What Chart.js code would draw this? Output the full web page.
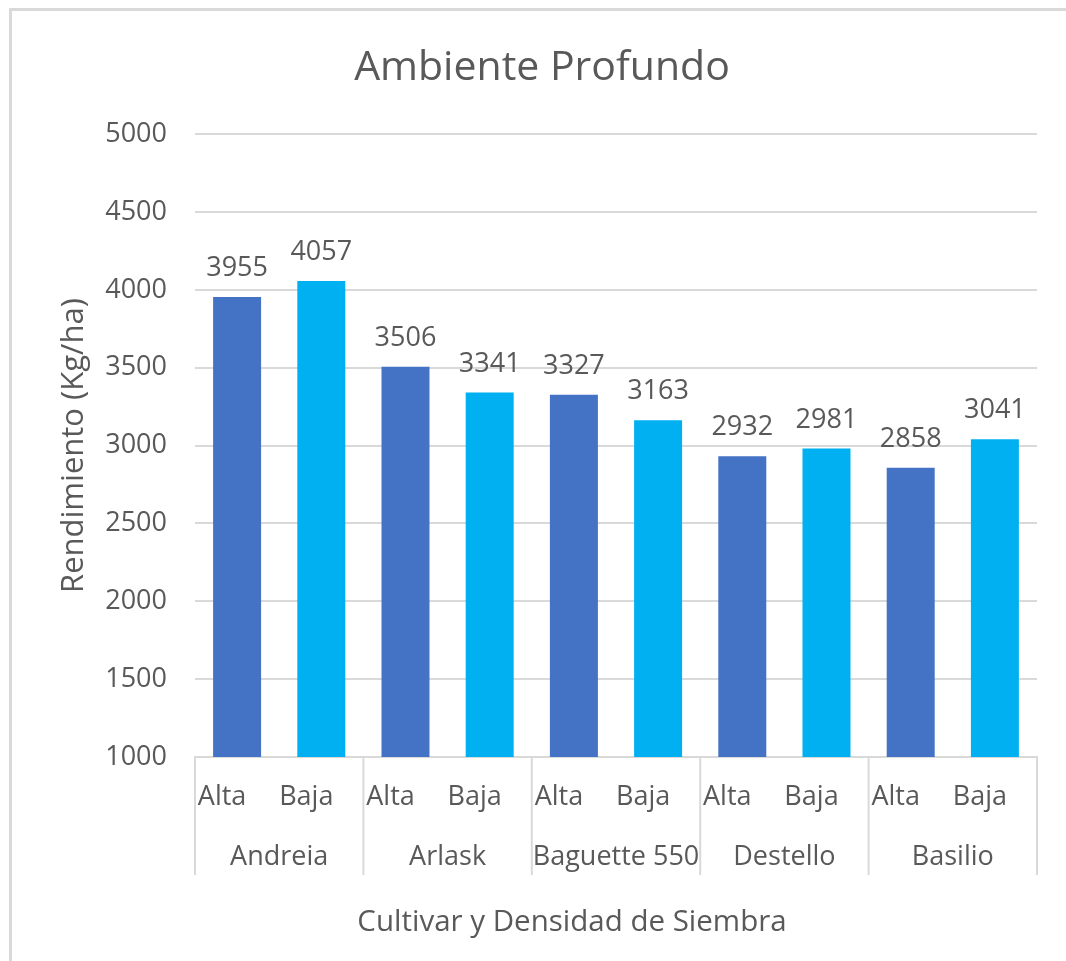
<!DOCTYPE html>
<html>
<head>
<meta charset="utf-8">
<title>Ambiente Profundo</title>
<script src="https://cdn.jsdelivr.net/npm/chart.js@4"></script>
<style>
  body { margin: 0; background: #ffffff; }
  #wrap { position: relative; width: 1066px; height: 961px; overflow: hidden; }
  #rahmen {
    position: absolute; left: 9px; top: 8px; width: 1200px; height: 1100px;
    border-top: 3px solid #d9d9d9; border-left: 3px solid #d9d9d9;
  }
  #chart { position: absolute; left: 0; top: 0; }
</style>
</head>
<body>
<div id="wrap">
  <div id="rahmen"></div>
  <canvas id="chart" width="1066" height="961"></canvas>
</div>
<script>
// ----------------------------------------------------------
// Daten
// ----------------------------------------------------------
const cultivares = ["Andreia", "Arlask", "Baguette 550", "Destello", "Basilio"];
const densidades = ["Alta", "Baja"];
const rendimiento = [3955, 4057, 3506, 3341, 3327, 3163, 2932, 2981, 2858, 3041];
const yTicks = [1000, 1500, 2000, 2500, 3000, 3500, 4000, 4500, 5000];

const titulo = "Ambiente Profundo";
const tituloY = "Rendimiento (Kg/ha)";
const tituloX = "Cultivar y Densidad de Siembra";

const FONT = "'Open Sans', 'Noto Sans', sans-serif";
const GRIS = "#595959";
const LINEA = "#d9d9d9";

// Labels: Alta/Baja für jede Sorte
const labels = [];
cultivares.forEach(() => densidades.forEach((d) => labels.push(d)));
const colores = labels.map((d) => (d === "Alta" ? "#4472C4" : "#00B0F0"));

// ----------------------------------------------------------
// Plugin: Werte über den Balken, Gruppen-Achse, X-Titel
// ----------------------------------------------------------
const extrasPlugin = {
  id: "extras",
  afterDatasetsDraw(chart) {
    const ctx = chart.ctx;
    const meta = chart.getDatasetMeta(0);
    ctx.save();
    ctx.fillStyle = GRIS;
    ctx.font = "27px " + FONT;
    ctx.textAlign = "center";
    ctx.textBaseline = "alphabetic";
    meta.data.forEach((bar, i) => {
      ctx.fillText(String(rendimiento[i]), bar.x, bar.y - 21);
    });
    ctx.restore();
  },
  afterDraw(chart) {
    const ctx = chart.ctx;
    const x = chart.scales.x;
    const area = chart.chartArea;
    const yTop = area.bottom;
    const yBottom = area.bottom + 118;

    // Grenzen zwischen den Gruppen
    const grenzen = [area.left];
    for (let g = 1; g < cultivares.length; g++) {
      const a = x.getPixelForValue(g * 2 - 1);
      const b = x.getPixelForValue(g * 2);
      grenzen.push((a + b) / 2);
    }
    grenzen.push(area.right);

    ctx.save();
    ctx.strokeStyle = LINEA;
    ctx.lineWidth = 2;
    grenzen.forEach((gx) => {
      ctx.beginPath();
      ctx.moveTo(gx, yTop);
      ctx.lineTo(gx, yBottom);
      ctx.stroke();
    });

    // Sortennamen
    ctx.fillStyle = GRIS;
    ctx.font = "27px " + FONT;
    ctx.textAlign = "center";
    ctx.textBaseline = "middle";
    cultivares.forEach((name, g) => {
      const mitte = (grenzen[g] + grenzen[g + 1]) / 2;
      ctx.fillText(name, mitte, area.bottom + 100);
    });

    // Achsentitel X
    ctx.font = "29.5px " + FONT;
    ctx.fillText(tituloX, 572, area.bottom + 166);
    ctx.restore();
  },
};

// ----------------------------------------------------------
// Diagramm
// ----------------------------------------------------------
const ctx = document.getElementById("chart").getContext("2d");
new Chart(ctx, {
  type: "bar",
  data: {
    labels: labels,
    datasets: [
      {
        data: rendimiento,
        backgroundColor: colores,
        barPercentage: 0.57,
        categoryPercentage: 1.0,
      },
    ],
  },
  options: {
    responsive: false,
    animation: false,
    layout: { padding: { left: 47, right: 29, top: 0, bottom: 0 } },
    plugins: {
      legend: { display: false },
      tooltip: { enabled: false },
      title: {
        display: true,
        text: titulo,
        color: GRIS,
        font: { family: FONT, size: 41, weight: "normal", lineHeight: 1.2 },
        padding: { top: 44, bottom: 41 },
      },
    },
    scales: {
      x: {
        grid: { display: false, drawTicks: false },
        border: { display: true, color: LINEA, width: 2 },
        ticks: {
          color: GRIS,
          font: { family: FONT, size: 27 },
          padding: 24,
          labelOffset: -15,
          maxRotation: 0,
          autoSkip: false,
        },
        afterFit(scale) {
          scale.height = 204;
        },
      },
      y: {
        min: yTicks[0],
        max: yTicks[yTicks.length - 1],
        afterBuildTicks(scale) {
          scale.ticks = yTicks.map((v) => ({ value: v }));
        },
        grid: { color: LINEA, lineWidth: 2, drawTicks: false },
        border: { display: false },
        ticks: {
          color: GRIS,
          font: { family: FONT, size: 27 },
          padding: 28,
          callback: (v) => String(v),
        },
        title: {
          display: true,
          text: tituloY,
          color: GRIS,
          font: { family: FONT, size: 31, lineHeight: 1.2 },
          padding: { top: 9, bottom: 0 },
        },
        afterFit(scale) {
          scale.width = 148;
        },
      },
    },
  },
  plugins: [extrasPlugin],
});
</script>
</body>
</html>
